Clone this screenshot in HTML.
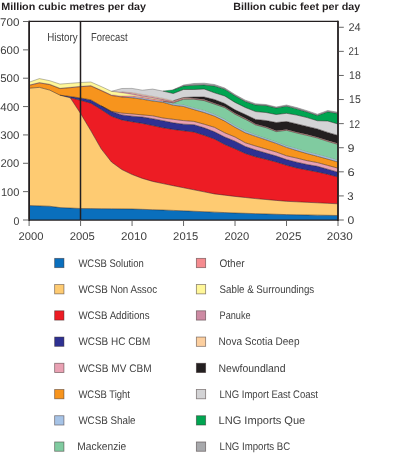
<!DOCTYPE html>
<html><head><meta charset="utf-8"><style>html,body{margin:0;padding:0;background:#fff;width:400px;height:459px;overflow:hidden}svg{display:block}</style></head><body>
<svg width="400" height="459" viewBox="0 0 400 459">
<rect width="400" height="459" fill="#fff"/>
<path d="M29.1,205.5 L39.4,205.88 L49.69,206.25 L59.99,207.6 L70.29,208.05 L80.58,208.5 L90.88,208.6 L101.18,208.7 L111.47,208.8 L121.77,208.9 L132.07,209 L142.36,209.35 L152.66,209.7 L162.96,210.05 L173.25,210.4 L183.55,210.83 L193.85,211.27 L204.14,211.7 L214.44,212.13 L224.74,212.57 L235.03,213 L245.33,213.32 L255.63,213.64 L265.92,213.96 L276.22,214.28 L286.52,214.6 L296.81,214.78 L307.11,214.96 L317.41,215.14 L327.7,215.32 L338,215.5 L338,220 L327.7,220 L317.41,220 L307.11,220 L296.81,220 L286.52,220 L276.22,220 L265.92,220 L255.63,220 L245.33,220 L235.03,220 L224.74,220 L214.44,220 L204.14,220 L193.85,220 L183.55,220 L173.25,220 L162.96,220 L152.66,220 L142.36,220 L132.07,220 L121.77,220 L111.47,220 L101.18,220 L90.88,220 L80.58,220 L70.29,220 L59.99,220 L49.69,220 L39.4,220 L29.1,220Z" fill="#0a6fbd"/>
<path d="M29.1,88.25 L39.4,87.35 L49.69,90.1 L59.99,95.2 L70.29,97.8 L80.58,113.5 L90.88,130.8 L101.18,148.8 L111.47,162 L121.77,169.5 L132.07,174.5 L142.36,178.4 L152.66,181.4 L162.96,183.6 L173.25,185.7 L183.55,187.75 L193.85,189.8 L204.14,191.85 L214.44,193.9 L224.74,195.15 L235.03,196.4 L245.33,197.5 L255.63,198.6 L265.92,199.5 L276.22,200.4 L286.52,201.3 L296.81,201.8 L307.11,202.3 L317.41,202.8 L327.7,203.3 L338,203.8 L338,215.5 L327.7,215.32 L317.41,215.14 L307.11,214.96 L296.81,214.78 L286.52,214.6 L276.22,214.28 L265.92,213.96 L255.63,213.64 L245.33,213.32 L235.03,213 L224.74,212.57 L214.44,212.13 L204.14,211.7 L193.85,211.27 L183.55,210.83 L173.25,210.4 L162.96,210.05 L152.66,209.7 L142.36,209.35 L132.07,209 L121.77,208.9 L111.47,208.8 L101.18,208.7 L90.88,208.6 L80.58,208.5 L70.29,208.05 L59.99,207.6 L49.69,206.25 L39.4,205.88 L29.1,205.5Z" fill="#fecb72"/>
<path d="M29.1,88.25 L39.4,87.35 L49.69,90.1 L59.99,95.2 L70.29,97.8 L80.58,100.3 L90.88,103.2 L101.18,109.5 L111.47,116.3 L121.77,119.9 L132.07,121.8 L142.36,123.4 L152.66,125.6 L162.96,127.8 L173.25,129.4 L183.55,130.8 L193.85,132 L204.14,135.3 L214.44,139 L224.74,144.5 L235.03,148.8 L245.33,153.5 L255.63,156.8 L265.92,159.3 L276.22,162 L286.52,165.3 L296.81,168 L307.11,170 L317.41,172 L327.7,174.3 L338,177 L338,203.8 L327.7,203.3 L317.41,202.8 L307.11,202.3 L296.81,201.8 L286.52,201.3 L276.22,200.4 L265.92,199.5 L255.63,198.6 L245.33,197.5 L235.03,196.4 L224.74,195.15 L214.44,193.9 L204.14,191.85 L193.85,189.8 L183.55,187.75 L173.25,185.7 L162.96,183.6 L152.66,181.4 L142.36,178.4 L132.07,174.5 L121.77,169.5 L111.47,162 L101.18,148.8 L90.88,130.8 L80.58,113.5 L70.29,97.8 L59.99,95.2 L49.69,90.1 L39.4,87.35 L29.1,88.25Z" fill="#ed1c24"/>
<path d="M29.1,88.25 L39.4,87.35 L49.69,90.1 L59.99,95.2 L70.29,96.5 L80.58,98 L90.88,99.9 L101.18,105.8 L111.47,111.6 L121.77,114.9 L132.07,116.2 L142.36,117 L152.66,118.7 L162.96,120.7 L173.25,122.8 L183.55,124.2 L193.85,124.7 L204.14,127.8 L214.44,131.8 L224.74,137 L235.03,141.2 L245.33,146.5 L255.63,150 L265.92,153 L276.22,156 L286.52,159.6 L296.81,162.2 L307.11,164.5 L317.41,166.3 L327.7,169.2 L338,172.2 L338,177 L327.7,174.3 L317.41,172 L307.11,170 L296.81,168 L286.52,165.3 L276.22,162 L265.92,159.3 L255.63,156.8 L245.33,153.5 L235.03,148.8 L224.74,144.5 L214.44,139 L204.14,135.3 L193.85,132 L183.55,130.8 L173.25,129.4 L162.96,127.8 L152.66,125.6 L142.36,123.4 L132.07,121.8 L121.77,119.9 L111.47,116.3 L101.18,109.5 L90.88,103.2 L80.58,100.3 L70.29,97.8 L59.99,95.2 L49.69,90.1 L39.4,87.35 L29.1,88.25Z" fill="#2e3192"/>
<path d="M29.1,88.25 L39.4,87.35 L49.69,90.1 L59.99,95.2 L70.29,96.5 L80.58,98 L90.88,99.9 L101.18,105.8 L111.47,111.3 L121.77,113.1 L132.07,113.9 L142.36,114.9 L152.66,115.8 L162.96,118 L173.25,119.3 L183.55,120.6 L193.85,121.4 L204.14,124.2 L214.44,127.3 L224.74,132.8 L235.03,137 L245.33,142.8 L255.63,146 L265.92,149 L276.22,152 L286.52,155.8 L296.81,158.1 L307.11,160.7 L317.41,162.6 L327.7,165.4 L338,168.2 L338,172.2 L327.7,169.2 L317.41,166.3 L307.11,164.5 L296.81,162.2 L286.52,159.6 L276.22,156 L265.92,153 L255.63,150 L245.33,146.5 L235.03,141.2 L224.74,137 L214.44,131.8 L204.14,127.8 L193.85,124.7 L183.55,124.2 L173.25,122.8 L162.96,120.7 L152.66,118.7 L142.36,117 L132.07,116.2 L121.77,114.9 L111.47,111.6 L101.18,105.8 L90.88,99.9 L80.58,98 L70.29,96.5 L59.99,95.2 L49.69,90.1 L39.4,87.35 L29.1,88.25Z" fill="#e9a1b3"/>
<path d="M29.1,85.4 L39.4,82.9 L49.69,84.6 L59.99,88.6 L70.29,87.7 L80.58,86.7 L90.88,86 L101.18,90.6 L111.47,95.5 L121.77,97 L132.07,97.8 L142.36,99.2 L152.66,101 L162.96,102.3 L173.25,105.2 L183.55,106.5 L193.85,109.6 L204.14,112.5 L214.44,116.1 L224.74,121.1 L235.03,127.3 L245.33,132.8 L255.63,136.4 L265.92,139.8 L276.22,143.4 L286.52,147.4 L296.81,150.6 L307.11,153.6 L317.41,156.3 L327.7,159.1 L338,162 L338,168.2 L327.7,165.4 L317.41,162.6 L307.11,160.7 L296.81,158.1 L286.52,155.8 L276.22,152 L265.92,149 L255.63,146 L245.33,142.8 L235.03,137 L224.74,132.8 L214.44,127.3 L204.14,124.2 L193.85,121.4 L183.55,120.6 L173.25,119.3 L162.96,118 L152.66,115.8 L142.36,114.9 L132.07,113.9 L121.77,113.1 L111.47,111.3 L101.18,105.8 L90.88,99.9 L80.58,98 L70.29,96.5 L59.99,95.2 L49.69,90.1 L39.4,87.35 L29.1,88.25Z" fill="#f7941d"/>
<path d="M29.1,85.4 L39.4,82.9 L49.69,84.6 L59.99,88.6 L70.29,87.7 L80.58,86.7 L90.88,86 L101.18,90.6 L111.47,95.5 L121.77,97 L132.07,96.8 L142.36,98 L152.66,99.8 L162.96,101.2 L173.25,103.7 L183.55,105 L193.85,108.1 L204.14,110.6 L214.44,114.5 L224.74,119.4 L235.03,125.8 L245.33,131 L255.63,135 L265.92,138.4 L276.22,142 L286.52,145.9 L296.81,148.8 L307.11,152 L317.41,154.5 L327.7,157.3 L338,160.2 L338,162 L327.7,159.1 L317.41,156.3 L307.11,153.6 L296.81,150.6 L286.52,147.4 L276.22,143.4 L265.92,139.8 L255.63,136.4 L245.33,132.8 L235.03,127.3 L224.74,121.1 L214.44,116.1 L204.14,112.5 L193.85,109.6 L183.55,106.5 L173.25,105.2 L162.96,102.3 L152.66,101 L142.36,99.2 L132.07,97.8 L121.77,97 L111.47,95.5 L101.18,90.6 L90.88,86 L80.58,86.7 L70.29,87.7 L59.99,88.6 L49.69,84.6 L39.4,82.9 L29.1,85.4Z" fill="#a6c3e6"/>
<path d="M29.1,85.4 L39.4,82.9 L49.69,84.6 L59.99,88.6 L70.29,87.7 L80.58,86.7 L90.88,86 L101.18,90.6 L111.47,95.5 L121.77,97 L132.07,96.8 L142.36,98 L152.66,99.8 L162.96,101.2 L173.25,102.8 L183.55,99.3 L193.85,99.2 L204.14,100.6 L214.44,104.1 L224.74,107.6 L235.03,114.2 L245.33,119.3 L255.63,124.9 L265.92,127.6 L276.22,131.6 L286.52,130.3 L296.81,133 L307.11,135.4 L317.41,138 L327.7,141.4 L338,144.4 L338,160.2 L327.7,157.3 L317.41,154.5 L307.11,152 L296.81,148.8 L286.52,145.9 L276.22,142 L265.92,138.4 L255.63,135 L245.33,131 L235.03,125.8 L224.74,119.4 L214.44,114.5 L204.14,110.6 L193.85,108.1 L183.55,105 L173.25,103.7 L162.96,101.2 L152.66,99.8 L142.36,98 L132.07,96.8 L121.77,97 L111.47,95.5 L101.18,90.6 L90.88,86 L80.58,86.7 L70.29,87.7 L59.99,88.6 L49.69,84.6 L39.4,82.9 L29.1,85.4Z" fill="#80cba0"/>
<path d="M29.1,85 L39.4,82.49 L49.69,84.17 L59.99,88.16 L70.29,87.24 L80.58,86.23 L90.88,85.51 L101.18,90.1 L111.47,94.75 L121.77,96 L132.07,95.8 L142.36,97 L152.66,98.8 L162.96,100.2 L173.25,101.8 L183.55,98.55 L193.85,98.7 L204.14,100.1 L214.44,103.6 L224.74,107.1 L235.03,113.7 L245.33,118.8 L255.63,124.4 L265.92,127.1 L276.22,131.1 L286.52,129.8 L296.81,132.5 L307.11,134.9 L317.41,137.5 L327.7,140.9 L338,143.9 L338,144.4 L327.7,141.4 L317.41,138 L307.11,135.4 L296.81,133 L286.52,130.3 L276.22,131.6 L265.92,127.6 L255.63,124.9 L245.33,119.3 L235.03,114.2 L224.74,107.6 L214.44,104.1 L204.14,100.6 L193.85,99.2 L183.55,99.3 L173.25,102.8 L162.96,101.2 L152.66,99.8 L142.36,98 L132.07,96.8 L121.77,97 L111.47,95.5 L101.18,90.6 L90.88,86 L80.58,86.7 L70.29,87.7 L59.99,88.6 L49.69,84.6 L39.4,82.9 L29.1,85.4Z" fill="#f58b8f"/>
<path d="M29.1,82.2 L39.4,78.6 L49.69,80.7 L59.99,84.1 L70.29,83.3 L80.58,82.5 L90.88,82 L101.18,86.5 L111.47,91.3 L121.77,92.8 L132.07,94.4 L142.36,96.4 L152.66,98.1 L162.96,99.9 L173.25,101.8 L183.55,98.55 L193.85,98.7 L204.14,100.1 L214.44,103.6 L224.74,107.1 L235.03,113.7 L245.33,118.8 L255.63,124.4 L265.92,127.1 L276.22,131.1 L286.52,129.8 L296.81,132.5 L307.11,134.9 L317.41,137.5 L327.7,140.9 L338,143.9 L338,143.9 L327.7,140.9 L317.41,137.5 L307.11,134.9 L296.81,132.5 L286.52,129.8 L276.22,131.1 L265.92,127.1 L255.63,124.4 L245.33,118.8 L235.03,113.7 L224.74,107.1 L214.44,103.6 L204.14,100.1 L193.85,98.7 L183.55,98.55 L173.25,101.8 L162.96,100.2 L152.66,98.8 L142.36,97 L132.07,95.8 L121.77,96 L111.47,94.75 L101.18,90.1 L90.88,85.51 L80.58,86.23 L70.29,87.24 L59.99,88.16 L49.69,84.17 L39.4,82.49 L29.1,85Z" fill="#fff799"/>
<path d="M29.1,82.2 L39.4,78.6 L49.69,80.7 L59.99,84.1 L70.29,83.3 L80.58,82.5 L90.88,82 L101.18,86.5 L111.47,91.3 L121.77,92 L132.07,93.2 L142.36,95.2 L152.66,97.1 L162.96,99.1 L173.25,101.5 L183.55,98.2 L193.85,98.6 L204.14,100.01 L214.44,103.51 L224.74,107.02 L235.03,113.63 L245.33,118.74 L255.63,124.34 L265.92,127.05 L276.22,131.06 L286.52,129.76 L296.81,132.47 L307.11,134.88 L317.41,137.49 L327.7,140.89 L338,143.9 L338,143.9 L327.7,140.9 L317.41,137.5 L307.11,134.9 L296.81,132.5 L286.52,129.8 L276.22,131.1 L265.92,127.1 L255.63,124.4 L245.33,118.8 L235.03,113.7 L224.74,107.1 L214.44,103.6 L204.14,100.1 L193.85,98.7 L183.55,98.55 L173.25,101.8 L162.96,99.9 L152.66,98.1 L142.36,96.4 L132.07,94.4 L121.77,92.8 L111.47,91.3 L101.18,86.5 L90.88,82 L80.58,82.5 L70.29,83.3 L59.99,84.1 L49.69,80.7 L39.4,78.6 L29.1,82.2Z" fill="#cd8aa3"/>
<path d="M29.1,82.2 L39.4,78.6 L49.69,80.7 L59.99,84.1 L70.29,83.3 L80.58,82.5 L90.88,82 L101.18,86.5 L111.47,91.3 L121.77,92 L132.07,92.6 L142.36,94.4 L152.66,96.3 L162.96,98.3 L173.25,100.8 L183.55,97.6 L193.85,98.2 L204.14,99.61 L214.44,103.13 L224.74,106.64 L235.03,113.26 L245.33,118.37 L255.63,123.99 L265.92,126.7 L276.22,130.71 L286.52,129.43 L296.81,132.14 L307.11,134.56 L317.41,137.17 L327.7,140.59 L338,143.6 L338,143.9 L327.7,140.89 L317.41,137.49 L307.11,134.88 L296.81,132.47 L286.52,129.76 L276.22,131.06 L265.92,127.05 L255.63,124.34 L245.33,118.74 L235.03,113.63 L224.74,107.02 L214.44,103.51 L204.14,100.01 L193.85,98.6 L183.55,98.2 L173.25,101.5 L162.96,99.1 L152.66,97.1 L142.36,95.2 L132.07,93.2 L121.77,92 L111.47,91.3 L101.18,86.5 L90.88,82 L80.58,82.5 L70.29,83.3 L59.99,84.1 L49.69,80.7 L39.4,78.6 L29.1,82.2Z" fill="#fccf9f"/>
<path d="M29.1,82.2 L39.4,78.6 L49.69,80.7 L59.99,84.1 L70.29,83.3 L80.58,82.5 L90.88,82 L101.18,86.5 L111.47,91.3 L121.77,92 L132.07,92.6 L142.36,94.4 L152.66,96.3 L162.96,98.3 L173.25,100.8 L183.55,97.5 L193.85,97 L204.14,97 L214.44,99.5 L224.74,103.5 L235.03,109.8 L245.33,114.5 L255.63,119.4 L265.92,120.5 L276.22,122.5 L286.52,121.5 L296.81,123.9 L307.11,126.4 L317.41,128.9 L327.7,132.4 L338,135.4 L338,143.6 L327.7,140.59 L317.41,137.17 L307.11,134.56 L296.81,132.14 L286.52,129.43 L276.22,130.71 L265.92,126.7 L255.63,123.99 L245.33,118.37 L235.03,113.26 L224.74,106.64 L214.44,103.13 L204.14,99.61 L193.85,98.2 L183.55,97.6 L173.25,100.8 L162.96,98.3 L152.66,96.3 L142.36,94.4 L132.07,92.6 L121.77,92 L111.47,91.3 L101.18,86.5 L90.88,82 L80.58,82.5 L70.29,83.3 L59.99,84.1 L49.69,80.7 L39.4,78.6 L29.1,82.2Z" fill="#231f20"/>
<path d="M29.1,82.2 L39.4,78.6 L49.69,80.7 L59.99,84.1 L70.29,83.3 L80.58,82.5 L90.88,82 L101.18,86.5 L111.47,91.3 L121.77,88.5 L132.07,88.4 L142.36,90.2 L152.66,89.1 L162.96,91.1 L173.25,93.5 L183.55,89.5 L193.85,89.5 L204.14,89 L214.44,92.8 L224.74,96 L235.03,102.4 L245.33,107.5 L255.63,111.6 L265.92,112.5 L276.22,114.5 L286.52,113.3 L296.81,115.1 L307.11,117.6 L317.41,120.75 L327.7,121 L338,124 L338,135.4 L327.7,132.4 L317.41,128.9 L307.11,126.4 L296.81,123.9 L286.52,121.5 L276.22,122.5 L265.92,120.5 L255.63,119.4 L245.33,114.5 L235.03,109.8 L224.74,103.5 L214.44,99.5 L204.14,97 L193.85,97 L183.55,97.5 L173.25,100.8 L162.96,98.3 L152.66,96.3 L142.36,94.4 L132.07,92.6 L121.77,92 L111.47,91.3 L101.18,86.5 L90.88,82 L80.58,82.5 L70.29,83.3 L59.99,84.1 L49.69,80.7 L39.4,78.6 L29.1,82.2Z" fill="#d3d3d5"/>
<path d="M29.1,82.2 L39.4,78.6 L49.69,80.7 L59.99,84.1 L70.29,83.3 L80.58,82.5 L90.88,82 L101.18,86.5 L111.47,91.3 L121.77,88.5 L132.07,88.4 L142.36,90.2 L152.66,89.1 L162.96,91.1 L173.25,89.8 L183.55,86 L193.85,85.2 L204.14,85 L214.44,86 L224.74,89.2 L235.03,95.8 L245.33,101.5 L255.63,105 L265.92,105.5 L276.22,108 L286.52,106.2 L296.81,108.9 L307.11,112 L317.41,115.5 L327.7,111.75 L338,113.5 L338,124 L327.7,121 L317.41,120.75 L307.11,117.6 L296.81,115.1 L286.52,113.3 L276.22,114.5 L265.92,112.5 L255.63,111.6 L245.33,107.5 L235.03,102.4 L224.74,96 L214.44,92.8 L204.14,89 L193.85,89.5 L183.55,89.5 L173.25,93.5 L162.96,91.1 L152.66,89.1 L142.36,90.2 L132.07,88.4 L121.77,88.5 L111.47,91.3 L101.18,86.5 L90.88,82 L80.58,82.5 L70.29,83.3 L59.99,84.1 L49.69,80.7 L39.4,78.6 L29.1,82.2Z" fill="#00a551"/>
<path d="M29.1,82.2 L39.4,78.6 L49.69,80.7 L59.99,84.1 L70.29,83.3 L80.58,82.5 L90.88,82 L101.18,86.5 L111.47,91.3 L121.77,88.5 L132.07,88.4 L142.36,90.2 L152.66,89.1 L162.96,91.1 L173.25,89.8 L183.55,85 L193.85,83.5 L204.14,83.2 L214.44,84.5 L224.74,88 L235.03,94.6 L245.33,100.2 L255.63,103.8 L265.92,104.5 L276.22,107 L286.52,105 L296.81,107.6 L307.11,110.75 L317.41,114.25 L327.7,110.5 L338,112.25 L338,113.5 L327.7,111.75 L317.41,115.5 L307.11,112 L296.81,108.9 L286.52,106.2 L276.22,108 L265.92,105.5 L255.63,105 L245.33,101.5 L235.03,95.8 L224.74,89.2 L214.44,86 L204.14,85 L193.85,85.2 L183.55,86 L173.25,89.8 L162.96,91.1 L152.66,89.1 L142.36,90.2 L132.07,88.4 L121.77,88.5 L111.47,91.3 L101.18,86.5 L90.88,82 L80.58,82.5 L70.29,83.3 L59.99,84.1 L49.69,80.7 L39.4,78.6 L29.1,82.2Z" fill="#a8a9ac"/>
<path d="M29.1,205.5 L39.4,205.88 L49.69,206.25 L59.99,207.6 L70.29,208.05 L80.58,208.5 L90.88,208.6 L101.18,208.7 L111.47,208.8 L121.77,208.9 L132.07,209 L142.36,209.35 L152.66,209.7 L162.96,210.05 L173.25,210.4 L183.55,210.83 L193.85,211.27 L204.14,211.7 L214.44,212.13 L224.74,212.57 L235.03,213 L245.33,213.32 L255.63,213.64 L265.92,213.96 L276.22,214.28 L286.52,214.6 L296.81,214.78 L307.11,214.96 L317.41,215.14 L327.7,215.32 L338,215.5 M29.1,88.25 L39.4,87.35 L49.69,90.1 L59.99,95.2 L70.29,97.8 L80.58,113.5 L90.88,130.8 L101.18,148.8 L111.47,162 L121.77,169.5 L132.07,174.5 L142.36,178.4 L152.66,181.4 L162.96,183.6 L173.25,185.7 L183.55,187.75 L193.85,189.8 L204.14,191.85 L214.44,193.9 L224.74,195.15 L235.03,196.4 L245.33,197.5 L255.63,198.6 L265.92,199.5 L276.22,200.4 L286.52,201.3 L296.81,201.8 L307.11,202.3 L317.41,202.8 L327.7,203.3 L338,203.8 M70.29,97.8 L80.58,100.3 L90.88,103.2 L101.18,109.5 L111.47,116.3 L121.77,119.9 L132.07,121.8 L142.36,123.4 L152.66,125.6 L162.96,127.8 L173.25,129.4 L183.55,130.8 L193.85,132 L204.14,135.3 L214.44,139 L224.74,144.5 L235.03,148.8 L245.33,153.5 L255.63,156.8 L265.92,159.3 L276.22,162 L286.52,165.3 L296.81,168 L307.11,170 L317.41,172 L327.7,174.3 L338,177 M59.99,95.2 L70.29,96.5 L80.58,98 L90.88,99.9 L101.18,105.8 L111.47,111.6 L121.77,114.9 L132.07,116.2 L142.36,117 L152.66,118.7 L162.96,120.7 L173.25,122.8 L183.55,124.2 L193.85,124.7 L204.14,127.8 L214.44,131.8 L224.74,137 L235.03,141.2 L245.33,146.5 L255.63,150 L265.92,153 L276.22,156 L286.52,159.6 L296.81,162.2 L307.11,164.5 L317.41,166.3 L327.7,169.2 L338,172.2 M101.18,105.8 L111.47,111.3 L121.77,113.1 L132.07,113.9 L142.36,114.9 L152.66,115.8 L162.96,118 L173.25,119.3 L183.55,120.6 L193.85,121.4 L204.14,124.2 L214.44,127.3 L224.74,132.8 L235.03,137 L245.33,142.8 L255.63,146 L265.92,149 L276.22,152 L286.52,155.8 L296.81,158.1 L307.11,160.7 L317.41,162.6 L327.7,165.4 L338,168.2 M29.1,85.4 L39.4,82.9 L49.69,84.6 L59.99,88.6 L70.29,87.7 L80.58,86.7 L90.88,86 L101.18,90.6 L111.47,95.5 L121.77,97 L132.07,97.8 L142.36,99.2 L152.66,101 L162.96,102.3 L173.25,105.2 L183.55,106.5 L193.85,109.6 L204.14,112.5 L214.44,116.1 L224.74,121.1 L235.03,127.3 L245.33,132.8 L255.63,136.4 L265.92,139.8 L276.22,143.4 L286.52,147.4 L296.81,150.6 L307.11,153.6 L317.41,156.3 L327.7,159.1 L338,162 M162.96,101.2 L173.25,102.8 L183.55,99.3 L193.85,99.2 L204.14,100.6 L214.44,104.1 L224.74,107.6 L235.03,114.2 L245.33,119.3 L255.63,124.9 L265.92,127.6 L276.22,131.6 L286.52,130.3 L296.81,133 L307.11,135.4 L317.41,138 L327.7,141.4 L338,144.4 M173.25,100.8 L183.55,97.5 L193.85,97 L204.14,97 L214.44,99.5 L224.74,103.5 L235.03,109.8 L245.33,114.5 L255.63,119.4 L265.92,120.5 L276.22,122.5 L286.52,121.5 L296.81,123.9 L307.11,126.4 L317.41,128.9 L327.7,132.4 L338,135.4 M162.96,91.1 L173.25,93.5 L183.55,89.5 L193.85,89.5 L204.14,89 L214.44,92.8 L224.74,96 L235.03,102.4 L245.33,107.5 L255.63,111.6 L265.92,112.5 L276.22,114.5 L286.52,113.3 L296.81,115.1 L307.11,117.6 L317.41,120.75 L327.7,121 L338,124 M173.25,89.8 L183.55,86 L193.85,85.2 L204.14,85 L214.44,86 L224.74,89.2 L235.03,95.8 L245.33,101.5 L255.63,105 L265.92,105.5 L276.22,108 L286.52,106.2 L296.81,108.9 L307.11,112 L317.41,115.5 L327.7,111.75 L338,113.5" fill="none" stroke="rgba(30,20,20,0.85)" stroke-width="0.55" stroke-linejoin="round"/>
<path d="M121.77,97 L132.07,96.8 L142.36,98 L152.66,99.8 L162.96,101.2 L173.25,103.7 L183.55,105 L193.85,108.1 L204.14,110.6 L214.44,114.5 L224.74,119.4 L235.03,125.8 L245.33,131 L255.63,135 L265.92,138.4 L276.22,142 L286.52,145.9 L296.81,148.8 L307.11,152 L317.41,154.5 L327.7,157.3 L338,160.2 M29.1,85 L39.4,82.49 L49.69,84.17 L59.99,88.16 L70.29,87.24 L80.58,86.23 L90.88,85.51 L101.18,90.1 L111.47,94.75 L121.77,96 L132.07,95.8 L142.36,97 L152.66,98.8 L162.96,100.2 L173.25,101.8 L183.55,98.55 L193.85,98.7 L204.14,100.1 L214.44,103.6 L224.74,107.1 L235.03,113.7 L245.33,118.8 L255.63,124.4 L265.92,127.1 L276.22,131.1 L286.52,129.8 L296.81,132.5 L307.11,134.9 L317.41,137.5 L327.7,140.9 L338,143.9 M111.47,91.3 L121.77,92.8 L132.07,94.4 L142.36,96.4 L152.66,98.1 L162.96,99.9 L173.25,101.8 M111.47,91.3 L121.77,92 L132.07,93.2 L142.36,95.2 L152.66,97.1 L162.96,99.1 L173.25,101.5 L183.55,98.2 L193.85,98.6 L204.14,100.01 L214.44,103.51 L224.74,107.02 L235.03,113.63 L245.33,118.74 L255.63,124.34 L265.92,127.05 M121.77,92 L132.07,92.6 L142.36,94.4 L152.66,96.3 L162.96,98.3 L173.25,100.8 L183.55,97.6 L193.85,98.2 L204.14,99.61 L214.44,103.13 L224.74,106.64 L235.03,113.26 L245.33,118.37 L255.63,123.99 L265.92,126.7 L276.22,130.71 L286.52,129.43 L296.81,132.14 L307.11,134.56 L317.41,137.17 L327.7,140.59 L338,143.6" fill="none" stroke="rgba(60,30,40,0.4)" stroke-width="0.45" stroke-linejoin="round"/>
<path d="M29.1,82.2 L39.4,78.6 L49.69,80.7 L59.99,84.1 L70.29,83.3 L80.58,82.5 L90.88,82 L101.18,86.5 L111.47,91.3 L121.77,88.5 L132.07,88.4 L142.36,90.2 L152.66,89.1 L162.96,91.1 L173.25,89.8 L183.55,85 L193.85,83.5 L204.14,83.2 L214.44,84.5 L224.74,88 L235.03,94.6 L245.33,100.2 L255.63,103.8 L265.92,104.5 L276.22,107 L286.52,105 L296.81,107.6 L307.11,110.75 L317.41,114.25 L327.7,110.5 L338,112.25" fill="none" stroke="rgba(90,90,90,0.7)" stroke-width="0.6" stroke-linejoin="round"/>
<g stroke="#231f20" fill="none">
<line x1="29.1" y1="21.4" x2="338" y2="21.4" stroke-width="1.4"/>
<line x1="29.1" y1="220.2" x2="338" y2="220.2" stroke-width="1.3"/>
<line x1="29.1" y1="20.7" x2="29.1" y2="220.9" stroke-width="1.8"/>
<line x1="338" y1="20.7" x2="338" y2="220.9" stroke-width="1.8"/>
<line x1="80.5" y1="21.4" x2="80.5" y2="220" stroke-width="1.5"/>
</g><g stroke="#666" fill="none" stroke-width="1">
<line x1="23" y1="220" x2="28.2" y2="220"/>
<line x1="23" y1="191.64" x2="28.2" y2="191.64"/>
<line x1="23" y1="163.29" x2="28.2" y2="163.29"/>
<line x1="23" y1="134.93" x2="28.2" y2="134.93"/>
<line x1="23" y1="106.57" x2="28.2" y2="106.57"/>
<line x1="23" y1="78.21" x2="28.2" y2="78.21"/>
<line x1="23" y1="49.86" x2="28.2" y2="49.86"/>
<line x1="23" y1="21.5" x2="28.2" y2="21.5"/>
<line x1="338.9" y1="220" x2="343.8" y2="220"/>
<line x1="338.9" y1="195.91" x2="343.8" y2="195.91"/>
<line x1="338.9" y1="171.82" x2="343.8" y2="171.82"/>
<line x1="338.9" y1="147.73" x2="343.8" y2="147.73"/>
<line x1="338.9" y1="123.64" x2="343.8" y2="123.64"/>
<line x1="338.9" y1="99.55" x2="343.8" y2="99.55"/>
<line x1="338.9" y1="75.46" x2="343.8" y2="75.46"/>
<line x1="338.9" y1="51.37" x2="343.8" y2="51.37"/>
<line x1="338.9" y1="27.28" x2="343.8" y2="27.28"/>
<line x1="29.1" y1="220.9" x2="29.1" y2="226" />
<line x1="80.58" y1="220.9" x2="80.58" y2="226" />
<line x1="132.07" y1="220.9" x2="132.07" y2="226" />
<line x1="183.55" y1="220.9" x2="183.55" y2="226" />
<line x1="235.03" y1="220.9" x2="235.03" y2="226" />
<line x1="286.52" y1="220.9" x2="286.52" y2="226" />
<line x1="338" y1="220.9" x2="338" y2="226" />
</g>
<rect x="54.65" y="258.35" width="9.3" height="9.3" fill="#0a6fbd" stroke="rgba(50,35,35,0.55)" stroke-width="0.8"/>
<rect x="54.65" y="284.58" width="9.3" height="9.3" fill="#fecb72" stroke="rgba(50,35,35,0.55)" stroke-width="0.8"/>
<rect x="54.65" y="310.81" width="9.3" height="9.3" fill="#ed1c24" stroke="rgba(50,35,35,0.55)" stroke-width="0.8"/>
<rect x="54.65" y="337.04" width="9.3" height="9.3" fill="#2e3192" stroke="rgba(50,35,35,0.55)" stroke-width="0.8"/>
<rect x="54.65" y="363.27" width="9.3" height="9.3" fill="#e9a1b3" stroke="rgba(50,35,35,0.55)" stroke-width="0.8"/>
<rect x="54.65" y="389.5" width="9.3" height="9.3" fill="#f7941d" stroke="rgba(50,35,35,0.55)" stroke-width="0.8"/>
<rect x="54.65" y="415.73" width="9.3" height="9.3" fill="#a6c3e6" stroke="rgba(50,35,35,0.55)" stroke-width="0.8"/>
<rect x="54.65" y="441.96" width="9.3" height="9.3" fill="#80cba0" stroke="rgba(50,35,35,0.55)" stroke-width="0.8"/>
<rect x="196.35" y="258.35" width="9.3" height="9.3" fill="#f58b8f" stroke="rgba(50,35,35,0.55)" stroke-width="0.8"/>
<rect x="196.35" y="284.58" width="9.3" height="9.3" fill="#fff799" stroke="rgba(50,35,35,0.55)" stroke-width="0.8"/>
<rect x="196.35" y="310.81" width="9.3" height="9.3" fill="#cd8aa3" stroke="rgba(50,35,35,0.55)" stroke-width="0.8"/>
<rect x="196.35" y="337.04" width="9.3" height="9.3" fill="#fccf9f" stroke="rgba(50,35,35,0.55)" stroke-width="0.8"/>
<rect x="196.35" y="363.27" width="9.3" height="9.3" fill="#231f20" stroke="rgba(50,35,35,0.55)" stroke-width="0.8"/>
<rect x="196.35" y="389.5" width="9.3" height="9.3" fill="#d3d3d5" stroke="rgba(50,35,35,0.55)" stroke-width="0.8"/>
<rect x="196.35" y="415.73" width="9.3" height="9.3" fill="#00a551" stroke="rgba(50,35,35,0.55)" stroke-width="0.8"/>
<rect x="196.35" y="441.96" width="9.3" height="9.3" fill="#a8a9ac" stroke="rgba(50,35,35,0.55)" stroke-width="0.8"/>
<g font-family="'Liberation Sans', sans-serif" style="will-change:transform" text-rendering="geometricPrecision">
<text x="1.19" y="9.7" font-size="10.4" font-weight="bold" fill="#231f20" textLength="144.81" lengthAdjust="spacingAndGlyphs">Million cubic metres per day</text>
<text x="233.19" y="9.7" font-size="10.4" font-weight="bold" fill="#231f20" textLength="127.02" lengthAdjust="spacingAndGlyphs">Billion cubic feet per day</text>
<text x="47.23" y="40.6" font-size="11.5" font-weight="normal" fill="#404040" textLength="30.35" lengthAdjust="spacingAndGlyphs">History</text>
<text x="90.97" y="40.6" font-size="11.5" font-weight="normal" fill="#404040" textLength="36.6" lengthAdjust="spacingAndGlyphs">Forecast</text>
<text x="13.43" y="225" font-size="11.2" font-weight="normal" fill="#404040" textLength="5.88" lengthAdjust="spacingAndGlyphs">0</text>
<text x="0.93" y="195.84" font-size="11.2" font-weight="normal" fill="#404040" textLength="18.49" lengthAdjust="spacingAndGlyphs">100</text>
<text x="0.56" y="167.49" font-size="11.2" font-weight="normal" fill="#404040" textLength="18.79" lengthAdjust="spacingAndGlyphs">200</text>
<text x="0.23" y="139.13" font-size="11.2" font-weight="normal" fill="#404040" textLength="19.23" lengthAdjust="spacingAndGlyphs">300</text>
<text x="0.27" y="110.77" font-size="11.2" font-weight="normal" fill="#404040" textLength="19.12" lengthAdjust="spacingAndGlyphs">400</text>
<text x="0.24" y="82.41" font-size="11.2" font-weight="normal" fill="#404040" textLength="19.06" lengthAdjust="spacingAndGlyphs">500</text>
<text x="0.24" y="54.06" font-size="11.2" font-weight="normal" fill="#404040" textLength="19.06" lengthAdjust="spacingAndGlyphs">600</text>
<text x="-0.09" y="25.7" font-size="11.2" font-weight="normal" fill="#404040" textLength="19.44" lengthAdjust="spacingAndGlyphs">700</text>
<text x="347.42" y="223.9" font-size="11.2" font-weight="normal" fill="#404040" textLength="6.79" lengthAdjust="spacingAndGlyphs">0</text>
<text x="347.25" y="199.81" font-size="11.2" font-weight="normal" fill="#404040" textLength="6.37" lengthAdjust="spacingAndGlyphs">3</text>
<text x="347.42" y="175.72" font-size="11.2" font-weight="normal" fill="#404040" textLength="7.21" lengthAdjust="spacingAndGlyphs">6</text>
<text x="347.46" y="151.63" font-size="11.2" font-weight="normal" fill="#404040" textLength="7.01" lengthAdjust="spacingAndGlyphs">9</text>
<text x="349.07" y="127.54" font-size="11.2" font-weight="normal" fill="#404040" textLength="11.1" lengthAdjust="spacingAndGlyphs">12</text>
<text x="349.1" y="103.45" font-size="11.2" font-weight="normal" fill="#404040" textLength="11.69" lengthAdjust="spacingAndGlyphs">15</text>
<text x="349.1" y="79.36" font-size="11.2" font-weight="normal" fill="#404040" textLength="11.69" lengthAdjust="spacingAndGlyphs">18</text>
<text x="348.51" y="55.27" font-size="11.2" font-weight="normal" fill="#404040" textLength="10.73" lengthAdjust="spacingAndGlyphs">21</text>
<text x="348.49" y="31.18" font-size="11.2" font-weight="normal" fill="#404040" textLength="12.23" lengthAdjust="spacingAndGlyphs">24</text>
<text x="18.59" y="240" font-size="11.2" font-weight="normal" fill="#404040" textLength="24.88" lengthAdjust="spacingAndGlyphs">2000</text>
<text x="69.7" y="240" font-size="11.2" font-weight="normal" fill="#404040" textLength="25.05" lengthAdjust="spacingAndGlyphs">2005</text>
<text x="120.96" y="240" font-size="11.2" font-weight="normal" fill="#404040" textLength="25.92" lengthAdjust="spacingAndGlyphs">2010</text>
<text x="173.14" y="240" font-size="11.2" font-weight="normal" fill="#404040" textLength="25.01" lengthAdjust="spacingAndGlyphs">2015</text>
<text x="224.43" y="240" font-size="11.2" font-weight="normal" fill="#404040" textLength="24.88" lengthAdjust="spacingAndGlyphs">2020</text>
<text x="275.55" y="240" font-size="11.2" font-weight="normal" fill="#404040" textLength="26.05" lengthAdjust="spacingAndGlyphs">2025</text>
<text x="326.83" y="240" font-size="11.2" font-weight="normal" fill="#404040" textLength="25.92" lengthAdjust="spacingAndGlyphs">2030</text>
<text x="78.38" y="266.8" font-size="11" font-weight="normal" fill="#404040" textLength="65.4" lengthAdjust="spacingAndGlyphs">WCSB Solution</text>
<text x="78.38" y="293.03" font-size="11" font-weight="normal" fill="#404040" textLength="78.68" lengthAdjust="spacingAndGlyphs">WCSB Non Assoc</text>
<text x="78.39" y="319.26" font-size="11" font-weight="normal" fill="#404040" textLength="71.14" lengthAdjust="spacingAndGlyphs">WCSB Additions</text>
<text x="78.39" y="345.49" font-size="11" font-weight="normal" fill="#404040" textLength="71.9" lengthAdjust="spacingAndGlyphs">WCSB HC CBM</text>
<text x="78.38" y="371.72" font-size="11" font-weight="normal" fill="#404040" textLength="73.15" lengthAdjust="spacingAndGlyphs">WCSB MV CBM</text>
<text x="78.38" y="397.95" font-size="11" font-weight="normal" fill="#404040" textLength="51.62" lengthAdjust="spacingAndGlyphs">WCSB Tight</text>
<text x="78.38" y="424.18" font-size="11" font-weight="normal" fill="#404040" textLength="57.17" lengthAdjust="spacingAndGlyphs">WCSB Shale</text>
<text x="77.35" y="450.41" font-size="11" font-weight="normal" fill="#404040" textLength="48.94" lengthAdjust="spacingAndGlyphs">Mackenzie</text>
<text x="219.55" y="266.8" font-size="11" font-weight="normal" fill="#404040" textLength="25.05" lengthAdjust="spacingAndGlyphs">Other</text>
<text x="219.59" y="293.03" font-size="11" font-weight="normal" fill="#404040" textLength="94.62" lengthAdjust="spacingAndGlyphs">Sable &amp; Surroundings</text>
<text x="219.56" y="319.26" font-size="11" font-weight="normal" fill="#404040" textLength="31.02" lengthAdjust="spacingAndGlyphs">Panuke</text>
<text x="218.58" y="345.49" font-size="11" font-weight="normal" fill="#404040" textLength="80.95" lengthAdjust="spacingAndGlyphs">Nova Scotia Deep</text>
<text x="218.54" y="371.72" font-size="11" font-weight="normal" fill="#404040" textLength="67" lengthAdjust="spacingAndGlyphs">Newfoundland</text>
<text x="219.59" y="397.95" font-size="11" font-weight="normal" fill="#404040" textLength="98.41" lengthAdjust="spacingAndGlyphs">LNG Import East Coast</text>
<text x="218.55" y="424.18" font-size="11" font-weight="normal" fill="#404040" textLength="86.69" lengthAdjust="spacingAndGlyphs">LNG Imports Que</text>
<text x="219.56" y="450.41" font-size="11" font-weight="normal" fill="#404040" textLength="70.67" lengthAdjust="spacingAndGlyphs">LNG Imports BC</text>
</g>
</svg>
</body></html>
